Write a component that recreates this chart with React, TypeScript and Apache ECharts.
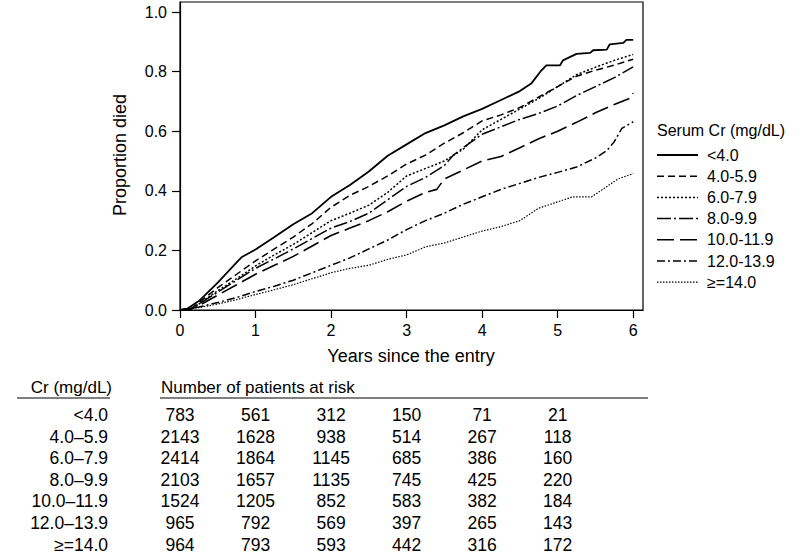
import React, { useEffect, useRef } from 'react';
import * as echarts from 'echarts';

const FONT = '"Liberation Sans", Arial, Helvetica, sans-serif';

// ---------- data ----------
const legendNames = ['<4.0', '4.0-5.9', '6.0-7.9', '8.0-9.9', '10.0-11.9', '12.0-13.9', '≥=14.0'];
const tableLabels = ['<4.0', '4.0–5.9', '6.0–7.9', '8.0–9.9', '10.0–11.9', '12.0–13.9', '≥=14.0'];
const xTicks = [0, 1, 2, 3, 4, 5, 6];
const yTicks = [0, 0.2, 0.4, 0.6, 0.8, 1.0];
const riskYears = [0, 1, 2, 3, 4, 5];

const riskLt4 = [783, 561, 312, 150, 71, 21];
const risk4 = [2143, 1628, 938, 514, 267, 118];
const risk6 = [2414, 1864, 1145, 685, 386, 160];
const risk8 = [2103, 1657, 1135, 745, 425, 220];
const risk10 = [1524, 1205, 852, 583, 382, 184];
const risk12 = [965, 792, 569, 397, 265, 143];
const risk14 = [964, 793, 593, 442, 316, 172];

// cumulative proportion died, [years, proportion]
const curveLt4 = [
  [0, 0], [0.1, 0.005], [0.25, 0.03], [0.5, 0.092], [0.75, 0.16], [0.82, 0.178], [1.0, 0.203],
  [1.25, 0.245], [1.5, 0.288], [1.75, 0.325], [2.0, 0.38], [2.25, 0.42], [2.5, 0.465],
  [2.75, 0.518], [3.0, 0.556], [3.25, 0.594], [3.5, 0.62], [3.75, 0.65], [4.0, 0.675],
  [4.25, 0.705], [4.5, 0.735], [4.65, 0.76], [4.77, 0.8], [4.85, 0.821], [5.03, 0.821],
  [5.07, 0.838], [5.25, 0.86], [5.43, 0.863], [5.47, 0.872], [5.65, 0.874], [5.69, 0.892],
  [5.87, 0.897], [5.91, 0.907], [6.0, 0.907],
];
const curve4 = [
  [0, 0], [0.15, 0.005], [0.25, 0.025], [0.5, 0.075], [0.75, 0.12], [1.0, 0.165], [1.25, 0.205],
  [1.5, 0.245], [1.75, 0.29], [2.0, 0.345], [2.25, 0.385], [2.5, 0.415], [2.75, 0.45],
  [3.0, 0.49], [3.25, 0.52], [3.5, 0.56], [3.75, 0.595], [4.0, 0.635], [4.25, 0.655],
  [4.5, 0.68], [4.75, 0.715], [5.0, 0.75], [5.25, 0.785], [5.5, 0.805], [5.75, 0.822],
  [6.0, 0.842],
];
const curve6 = [
  [0, 0], [0.15, 0.004], [0.25, 0.02], [0.5, 0.065], [0.75, 0.105], [1.0, 0.148], [1.25, 0.185],
  [1.5, 0.22], [1.75, 0.26], [2.0, 0.3], [2.25, 0.325], [2.5, 0.352], [2.75, 0.395],
  [3.0, 0.45], [3.25, 0.475], [3.5, 0.5], [3.75, 0.54], [4.0, 0.605], [4.25, 0.64],
  [4.5, 0.675], [4.75, 0.71], [5.0, 0.75], [5.25, 0.79], [5.5, 0.815], [5.75, 0.838],
  [6.0, 0.858],
];
const curve8 = [
  [0, 0], [0.15, 0.004], [0.25, 0.02], [0.5, 0.06], [0.75, 0.1], [1.0, 0.14], [1.25, 0.172],
  [1.5, 0.205], [1.75, 0.24], [2.0, 0.275], [2.25, 0.297], [2.5, 0.325], [2.75, 0.37],
  [3.0, 0.415], [3.25, 0.445], [3.5, 0.485], [3.62, 0.52], [3.75, 0.545], [4.0, 0.59],
  [4.25, 0.615], [4.5, 0.64], [4.75, 0.66], [5.0, 0.685], [5.25, 0.72], [5.5, 0.75],
  [5.75, 0.78], [6.0, 0.816],
];
const curve10 = [
  [0, 0], [0.15, 0.003], [0.25, 0.015], [0.5, 0.05], [0.75, 0.085], [1.0, 0.12], [1.25, 0.15],
  [1.5, 0.18], [1.75, 0.215], [2.0, 0.25], [2.25, 0.275], [2.5, 0.3], [2.75, 0.33],
  [3.0, 0.365], [3.25, 0.395], [3.4, 0.405], [3.5, 0.44], [3.75, 0.47], [4.0, 0.5],
  [4.25, 0.515], [4.5, 0.545], [4.75, 0.575], [5.0, 0.6], [5.25, 0.63], [5.5, 0.662],
  [5.75, 0.69], [5.97, 0.712], [6.0, 0.728],
];
const curve12 = [
  [0, 0], [0.25, 0.01], [0.5, 0.025], [0.75, 0.042], [1.0, 0.062], [1.25, 0.08], [1.5, 0.1],
  [1.75, 0.125], [2.0, 0.15], [2.25, 0.175], [2.5, 0.205], [2.75, 0.235], [3.0, 0.27],
  [3.25, 0.3], [3.5, 0.325], [3.75, 0.355], [4.0, 0.38], [4.25, 0.405], [4.5, 0.425],
  [4.75, 0.445], [5.0, 0.462], [5.25, 0.48], [5.5, 0.51], [5.65, 0.535], [5.75, 0.565],
  [5.85, 0.61], [6.0, 0.632],
];
const curve14 = [
  [0, 0], [0.25, 0.008], [0.5, 0.02], [0.75, 0.035], [1.0, 0.052], [1.25, 0.068], [1.5, 0.085],
  [1.75, 0.105], [2.0, 0.125], [2.25, 0.14], [2.5, 0.15], [2.75, 0.17], [3.0, 0.185],
  [3.25, 0.212], [3.5, 0.225], [3.75, 0.245], [4.0, 0.265], [4.25, 0.28], [4.5, 0.3],
  [4.75, 0.342], [5.0, 0.363], [5.2, 0.38], [5.45, 0.38], [5.55, 0.397], [5.8, 0.44],
  [6.0, 0.458],
];

const curves = [curveLt4, curve4, curve6, curve8, curve10, curve12, curve14];
const risks = [riskLt4, risk4, risk6, risk8, risk10, risk12, risk14];

// ---------- styles ----------
const lineStyles: any[] = [
  { type: 'solid', width: 1.8 },
  { type: [7, 4], width: 1.5 },
  { type: [2, 2], width: 1.5 },
  { type: [14, 3, 2, 3], width: 1.5 },
  { type: [17, 6], width: 1.6 },
  { type: [8, 3, 2, 3], width: 1.5 },
  { type: [1.5, 1.5], width: 1.2 },
];

export default function App() {
  const ref = useRef<HTMLDivElement>(null);

  useEffect(() => {
    if (!ref.current) return;
    const chart = echarts.init(ref.current, undefined, { renderer: 'svg' });

    const option: any = {
      animation: false,
      backgroundColor: '#fff',
      textStyle: { fontFamily: FONT, color: '#000' },
      grid: {
        left: 180,
        right: 157,
        top: 2,
        bottom: 246,
        show: true,
        borderColor: '#000',
        borderWidth: 1.2,
        outerBoundsMode: 'none',
      },
      xAxis: {
        type: 'value',
        min: 0,
        max: 6.13,
        splitLine: { show: false },
        axisLine: { show: true, lineStyle: { color: '#000', width: 1.2 } },
        axisTick: { show: true, length: 8, customValues: xTicks, lineStyle: { color: '#000', width: 1.2 } },
        axisLabel: {
          customValues: xTicks,
          margin: 12,
          fontSize: 16,
          color: '#000',
          fontFamily: FONT,
        },
      },
      yAxis: {
        type: 'value',
        min: 0,
        max: 1.034,
        splitLine: { show: false },
        axisLine: { show: true, lineStyle: { color: '#000', width: 1.2 } },
        axisTick: { show: true, length: 8, customValues: yTicks, lineStyle: { color: '#000', width: 1.2 } },
        axisLabel: {
          customValues: yTicks,
          margin: 13,
          fontSize: 16,
          color: '#000',
          fontFamily: FONT,
          formatter: (v: number) => v.toFixed(1),
        },
      },
      series: curves.map((c, i) => ({
        name: legendNames[i],
        type: 'line',
        data: c,
        symbol: 'none',
        showSymbol: false,
        lineStyle: { color: '#000', ...lineStyles[i] },
        itemStyle: { color: '#000' },
        z: 10 - i,
      })),
    };
    chart.setOption(option);

    const g: any[] = [];

    // legend (drawn with the same line styles as the series)
    const legX = 657;
    const legY0 = 155;
    const legStep = 21.2;
    g.push({
      type: 'text', x: legX, y: 130,
      style: { text: 'Serum Cr (mg/dL)', font: `16px ${FONT}`, fill: '#000', align: 'left', verticalAlign: 'middle' },
    });
    legendNames.forEach((name, i) => {
      const y = legY0 + i * legStep;
      const ls = lineStyles[i];
      g.push({
        type: 'line',
        shape: { x1: legX, y1: y, x2: legX + 41, y2: y },
        style: { stroke: '#000', lineWidth: ls.width, lineDash: Array.isArray(ls.type) ? ls.type : null },
      });
      g.push({
        type: 'text', x: legX + 50, y,
        style: { text: name, font: `16px ${FONT}`, fill: '#000', align: 'left', verticalAlign: 'middle' },
      });
    });

    // axis titles
    g.push({
      type: 'text', x: 120, y: 155, rotation: Math.PI / 2,
      style: { text: 'Proportion died', font: `18px ${FONT}`, fill: '#000', align: 'center', verticalAlign: 'middle' },
    });
    g.push({
      type: 'text', x: 411, y: 356,
      style: { text: 'Years since the entry', font: `18px ${FONT}`, fill: '#000', align: 'center', verticalAlign: 'middle' },
    });

    // table of patients at risk, aligned to x axis ticks
    const rowY0 = 415;
    const rowStep = 21.6;
    const tableFont = 17.5;
    g.push({
      type: 'text', x: 112, y: 387,
      style: { text: 'Cr (mg/dL)', font: `17px ${FONT}`, fill: '#000', align: 'right', verticalAlign: 'middle' },
    });
    g.push({
      type: 'text', x: 161, y: 387,
      style: { text: 'Number of patients at risk', font: `17px ${FONT}`, fill: '#000', align: 'left', verticalAlign: 'middle' },
    });
    g.push({ type: 'line', shape: { x1: 17, y1: 398, x2: 110, y2: 398 }, style: { stroke: '#000', lineWidth: 1 } });
    g.push({ type: 'line', shape: { x1: 160, y1: 398, x2: 648, y2: 398 }, style: { stroke: '#000', lineWidth: 1 } });

    tableLabels.forEach((lab, r) => {
      const y = rowY0 + r * rowStep;
      g.push({
        type: 'text', x: 108, y,
        style: { text: lab, font: `${tableFont}px ${FONT}`, fill: '#000', align: 'right', verticalAlign: 'middle' },
      });
      riskYears.forEach((yr, c) => {
        const px = chart.convertToPixel({ xAxisIndex: 0 }, yr) as number;
        g.push({
          type: 'text', x: px, y,
          style: { text: String(risks[r][c]), font: `${tableFont}px ${FONT}`, fill: '#000', align: 'center', verticalAlign: 'middle' },
        });
      });
    });

    chart.setOption({ graphic: g });

    return () => chart.dispose();
  }, []);

  return (
    <div
      ref={ref}
      style={{ position: 'fixed', left: 0, top: 0, width: 800, height: 556, background: '#fff' }}
    />
  );
}
